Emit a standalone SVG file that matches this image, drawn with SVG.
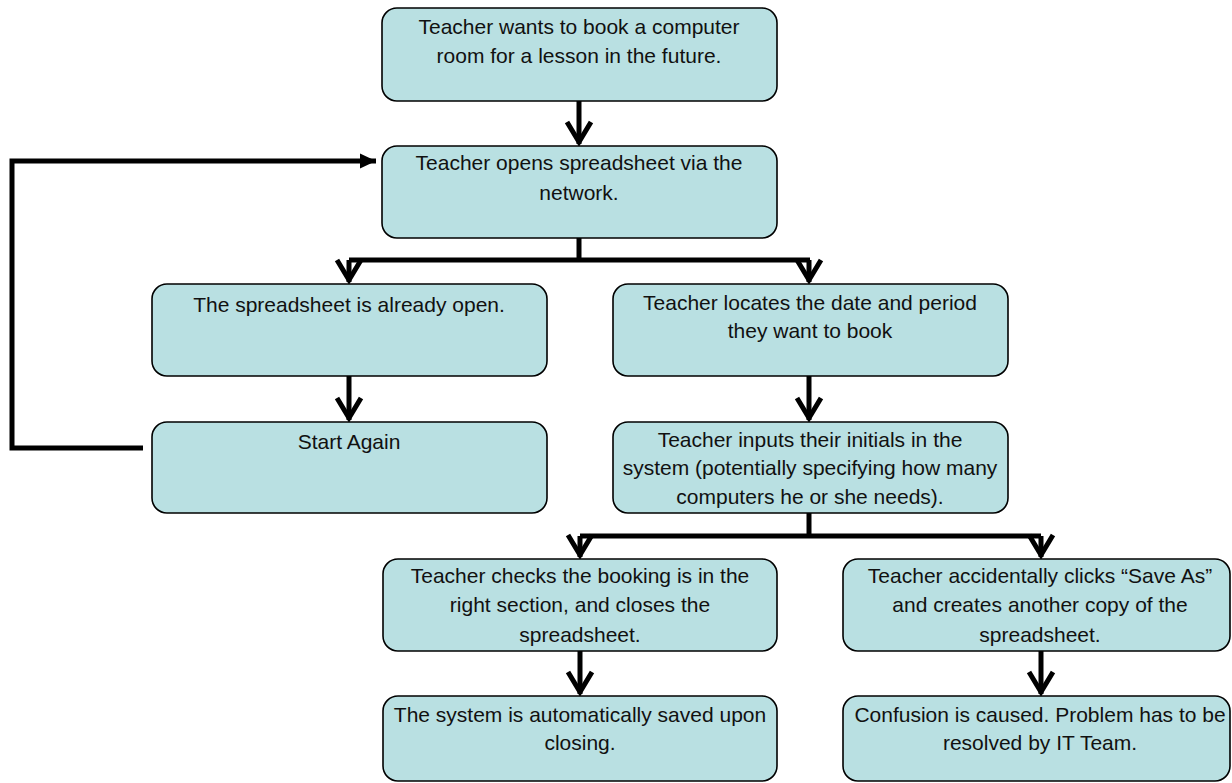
<svg xmlns="http://www.w3.org/2000/svg" width="1232" height="783" viewBox="0 0 1232 783">
<style>
.box{fill:#B9E0E2;stroke:#000;stroke-width:1.6}
.t{font-family:"Liberation Sans",Arial,sans-serif;font-size:21px;fill:#111;text-anchor:middle}
.ln{fill:none;stroke:#000;stroke-width:5;stroke-linejoin:miter}
</style>
<defs>
<marker id="chev" markerUnits="userSpaceOnUse" viewBox="-30 -15 34 30" refX="0" refY="0" markerWidth="34" markerHeight="30" orient="auto">
<path d="M -22 -12 L -2 0 L -22 12" fill="none" stroke="#000" stroke-width="5"/>
</marker>
<marker id="tri" markerUnits="userSpaceOnUse" viewBox="-16 -8 17 16" refX="0" refY="0" markerWidth="17" markerHeight="16" orient="auto">
<path d="M -16 -7.5 L 0 0 L -16 7.5 Z" fill="#000"/>
</marker>
</defs>
<g id="connectors">
<path class="ln" d="M579 101 V144" marker-end="url(#chev)"/>
<path class="ln" d="M143 448 H12 V161 H376" marker-end="url(#tri)"/>
<path class="ln" d="M579 238 V260"/>
<path class="ln" d="M349 260 H810"/>
<path class="ln" d="M349 260 V282" marker-end="url(#chev)"/>
<path class="ln" d="M809 260 V282" marker-end="url(#chev)"/>
<path class="ln" d="M349 376 V420" marker-end="url(#chev)"/>
<path class="ln" d="M809 376 V420" marker-end="url(#chev)"/>
<path class="ln" d="M809 513 V536"/>
<path class="ln" d="M580 536 H1041"/>
<path class="ln" d="M580 536 V557" marker-end="url(#chev)"/>
<path class="ln" d="M1041 536 V557" marker-end="url(#chev)"/>
<path class="ln" d="M580 651 V694" marker-end="url(#chev)"/>
<path class="ln" d="M1041 651 V694" marker-end="url(#chev)"/>
</g>
<g id="n1"><rect class="box" x="382" y="8" width="395" height="93" rx="15"/>
<text class="t" x="579" y="34">Teacher wants to book a computer</text>
<text class="t" x="579" y="63">room for a lesson in the future.</text></g>
<g id="n2"><rect class="box" x="382" y="146" width="395" height="92" rx="15"/>
<text class="t" x="579" y="170">Teacher opens spreadsheet via the</text>
<text class="t" x="579" y="200">network.</text></g>
<g id="n3"><rect class="box" x="152" y="284" width="395" height="92" rx="15"/>
<text class="t" x="349" y="312">The spreadsheet is already open.</text></g>
<g id="n4"><rect class="box" x="152" y="422" width="395" height="91" rx="15"/>
<text class="t" x="349" y="449">Start Again</text></g>
<g id="n5"><rect class="box" x="613" y="284" width="395" height="92" rx="15"/>
<text class="t" x="810" y="310">Teacher locates the date and period</text>
<text class="t" x="810" y="338">they want to book</text></g>
<g id="n6"><rect class="box" x="613" y="422" width="395" height="91" rx="15"/>
<text class="t" x="810" y="447">Teacher inputs their initials in the</text>
<text class="t" x="810" y="475">system (potentially specifying how many</text>
<text class="t" x="810" y="504">computers he or she needs).</text></g>
<g id="n7"><rect class="box" x="383" y="559" width="394" height="92" rx="15"/>
<text class="t" x="580" y="583">Teacher checks the booking is in the</text>
<text class="t" x="580" y="612">right section, and closes the</text>
<text class="t" x="580" y="642">spreadsheet.</text></g>
<g id="n8"><rect class="box" x="383" y="696" width="394" height="85" rx="15"/>
<text class="t" x="580" y="722">The system is automatically saved upon</text>
<text class="t" x="580" y="750">closing.</text></g>
<g id="n9"><rect class="box" x="843" y="559" width="387" height="92" rx="15"/>
<text class="t" x="1040" y="583">Teacher accidentally clicks “Save As”</text>
<text class="t" x="1040" y="612">and creates another copy of the</text>
<text class="t" x="1040" y="642">spreadsheet.</text></g>
<g id="n10"><rect class="box" x="843" y="696" width="387" height="85" rx="15"/>
<text class="t" x="1040" y="722">Confusion is caused. Problem has to be</text>
<text class="t" x="1040" y="750">resolved by IT Team.</text></g>
</svg>
